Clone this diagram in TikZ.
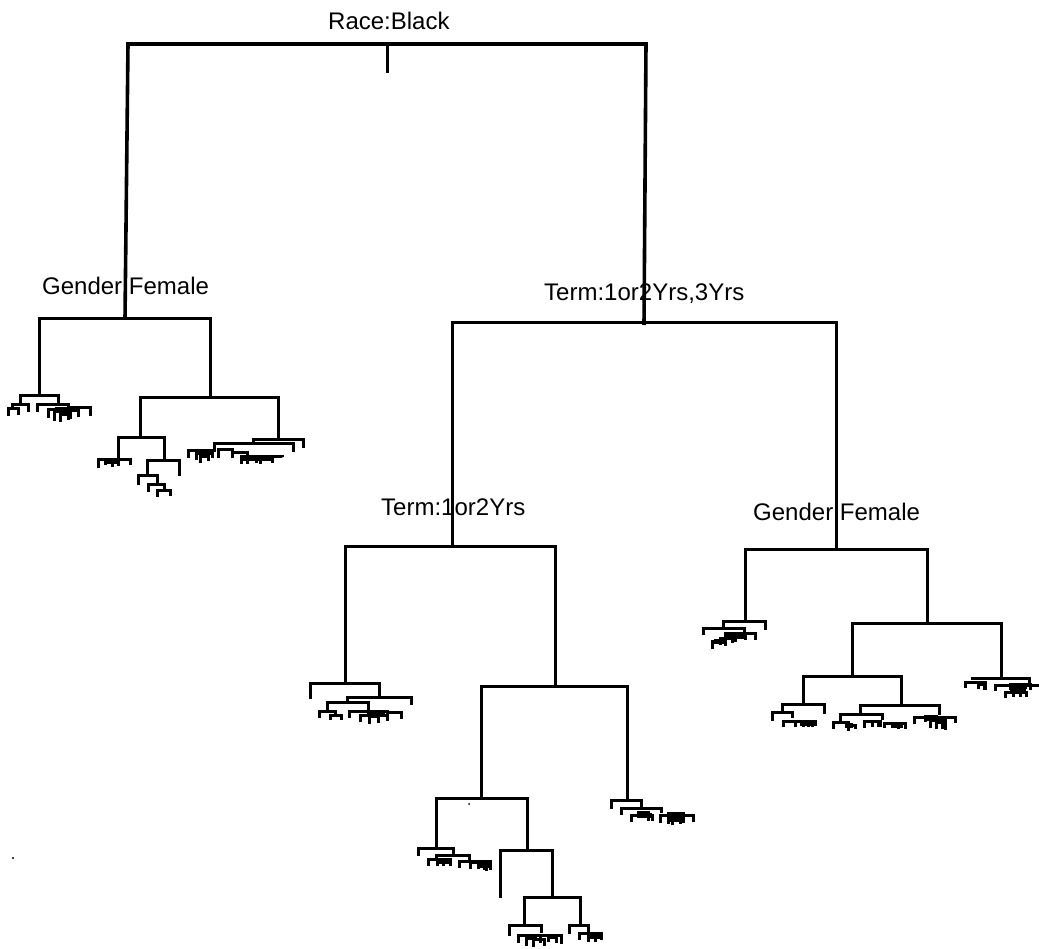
\documentclass[tikz,border=0pt]{standalone}
\usepackage{fontspec}
\setmainfont{Liberation Sans}
\newcommand{\br}[5]{\draw[treeline] (#1,#4) -- (#1,#3) -- (#2,#3) -- (#2,#5);}
\newcommand{\sbr}[5]{\draw[twig] (#1,#4) -- (#1,#3) -- (#2,#3) -- (#2,#5);}
\newcommand{\dk}[3]{\draw[blob] (#1,#3) -- (#2,#3);}
\tikzset{
  treeline/.style={line width=3pt,black,line join=miter},
  rootline/.style={line width=3.6pt,black,line join=miter},
  twig/.style={line width=3pt,black,line join=miter},
  blob/.style={line width=5pt,black},
  splitlabel/.style={anchor=base west,inner sep=0pt,font=\fontsize{24}{28}\selectfont}
}
\begin{document}
\begin{tikzpicture}[x=1pt,y=-1pt]
\useasboundingbox (0,0) rectangle (1039,949);
% labels
\node[splitlabel] (race) at (328,30) {Race:Black};
\node[splitlabel] (genderL) at (42,295) {Gender:Female};
\node[splitlabel] (termA) at (544,301) {Term:1or2Yrs,3Yrs};
\node[splitlabel] (termB) at (381,515) {Term:1or2Yrs};
\node[splitlabel] (genderR) at (753,520) {Gender:Female};
% root
\draw[rootline] (125,319) -- (128,44) -- (646,44) -- (644,325);
\draw[treeline] (387,44) -- (387,73);
% left branch
\br{39}{210}{319}{397}{398}
\sbr{20}{58}{396}{405}{405}
\sbr{12}{28}{405}{409}{412}
\sbr{8}{18}{409}{416}{415}
\sbr{37}{68}{405}{412}{408}
\sbr{48}{78}{410}{418}{417}
\sbr{54}{70}{412}{421}{419}
\sbr{60}{68}{415}{422}{420}
\sbr{68}{90}{408}{412}{416}
\dk{55}{78}{410}
\br{140}{278}{398}{438}{440}
\sbr{118}{164}{438}{459}{460}
\sbr{98}{130}{459}{468}{465}
\sbr{105}{112}{459}{465}{465}
\sbr{112}{118}{459}{467}{466}
\dk{104}{119}{461}
\sbr{147}{179}{460}{475}{476}
\sbr{138}{157}{475}{485}{484}
\sbr{148}{164}{484}{492}{490}
\sbr{157}{170}{490}{497}{496}
\sbr{253}{303}{440}{445}{448}
\sbr{214}{293}{444}{449}{452}
\sbr{188}{214}{450}{458}{452}
\sbr{196}{212}{453}{460}{458}
\sbr{200}{208}{456}{463}{461}
\dk{195}{207}{452}
\sbr{218}{232}{449}{458}{456}
\sbr{232}{247}{452}{458}{460}
\sbr{241}{282}{456}{464}{457}
\sbr{247}{256}{457}{464}{463}
\sbr{260}{272}{457}{464}{463}
\dk{243}{274}{458}
% term branch
\br{452}{836}{323}{546}{549}
\br{345}{555}{546}{683}{686}
\sbr{310}{379}{683}{699}{697}
\sbr{347}{411}{697}{702}{705}
\sbr{327}{368}{702}{711}{710}
\sbr{319}{335}{711}{718}{716}
\sbr{330}{341}{715}{720}{720}
\sbr{349}{387}{711}{718}{715}
\sbr{360}{387}{715}{722}{721}
\sbr{369}{378}{716}{724}{723}
\sbr{387}{401}{712}{716}{719}
\dk{367}{385}{714}
\br{481}{627}{686}{798}{801}
\sbr{436}{527}{798}{848}{850}
\sbr{418}{453}{848}{856}{855}
\sbr{436}{469}{855}{860}{860}
\sbr{428}{450}{859}{866}{866}
\sbr{437}{443}{859}{866}{866}
\dk{439}{450}{861}
\sbr{459}{490}{861}{868}{870}
\sbr{470}{484}{862}{869}{870}
\sbr{478}{486}{864}{869}{871}
\dk{477}{490}{865}
\sbr{500}{552}{850}{898}{897}
\sbr{524}{580}{897}{925}{925}
\sbr{509}{541}{925}{936}{933}
\sbr{518}{561}{935}{943}{944}
\sbr{526}{540}{935}{946}{943}
\sbr{533}{544}{939}{947}{946}
\sbr{548}{556}{937}{942}{943}
\dk{527}{537}{937}
\sbr{569}{588}{925}{934}{932}
\sbr{579}{601}{933}{940}{940}
\sbr{588}{595}{935}{942}{942}
\dk{590}{600}{936}
\sbr{611}{641}{800}{809}{808}
\sbr{621}{661}{808}{815}{813}
\sbr{631}{652}{815}{822}{821}
\sbr{638}{648}{812}{818}{821}
\dk{638}{652}{815}
\sbr{660}{693}{815}{823}{822}
\sbr{668}{683}{813}{824}{823}
\sbr{672}{680}{816}{825}{824}
\dk{668}{682}{815}
\dk{670}{682}{819}
% right gender branch
\br{745}{927}{549}{621}{622}
\sbr{723}{765}{621}{628}{630}
\sbr{703}{744}{628}{635}{633}
\sbr{725}{755}{633}{638}{640}
\sbr{712}{725}{641}{649}{646}
\sbr{720}{735}{638}{645}{642}
\sbr{732}{745}{636}{643}{640}
\dk{714}{726}{641}
\dk{727}{745}{636}
\br{852}{1001}{623}{676}{677}
\br{803}{901}{676}{705}{705}
\sbr{782}{824}{704}{713}{714}
\sbr{772}{792}{712}{721}{718}
\sbr{783}{815}{721}{727}{726}
\sbr{795}{803}{721}{727}{727}
\sbr{808}{812}{721}{727}{727}
\dk{800}{815}{723}
\sbr{860}{939}{705}{714}{715}
\sbr{840}{882}{714}{722}{720}
\sbr{833}{848}{722}{729}{727}
\sbr{848}{855}{725}{731}{729}
\dk{845}{853}{725}
\sbr{864}{880}{721}{728}{727}
\sbr{872}{878}{721}{727}{727}
\sbr{884}{905}{723}{728}{729}
\sbr{892}{898}{723}{728}{729}
\dk{893}{903}{725}
\sbr{914}{955}{717}{724}{723}
\sbr{925}{936}{716}{722}{726}
\sbr{930}{945}{720}{728}{730}
\sbr{936}{942}{722}{729}{729}
\dk{925}{938}{718}
\sbr{972}{1029}{678}{680}{684}
\sbr{965}{985}{682}{688}{690}
\sbr{978}{984}{684}{689}{690}
\sbr{995}{1039}{685}{691}{685}
\sbr{1010}{1030}{684}{690}{690}
\sbr{1005}{1026}{692}{698}{697}
\sbr{1013}{1020}{690}{697}{697}
\dk{1010}{1027}{686}
\dk{1010}{1026}{690}
% specks
\fill (469,804) circle (1);
\fill (13,858) circle (1.2);
\end{tikzpicture}
\end{document}
